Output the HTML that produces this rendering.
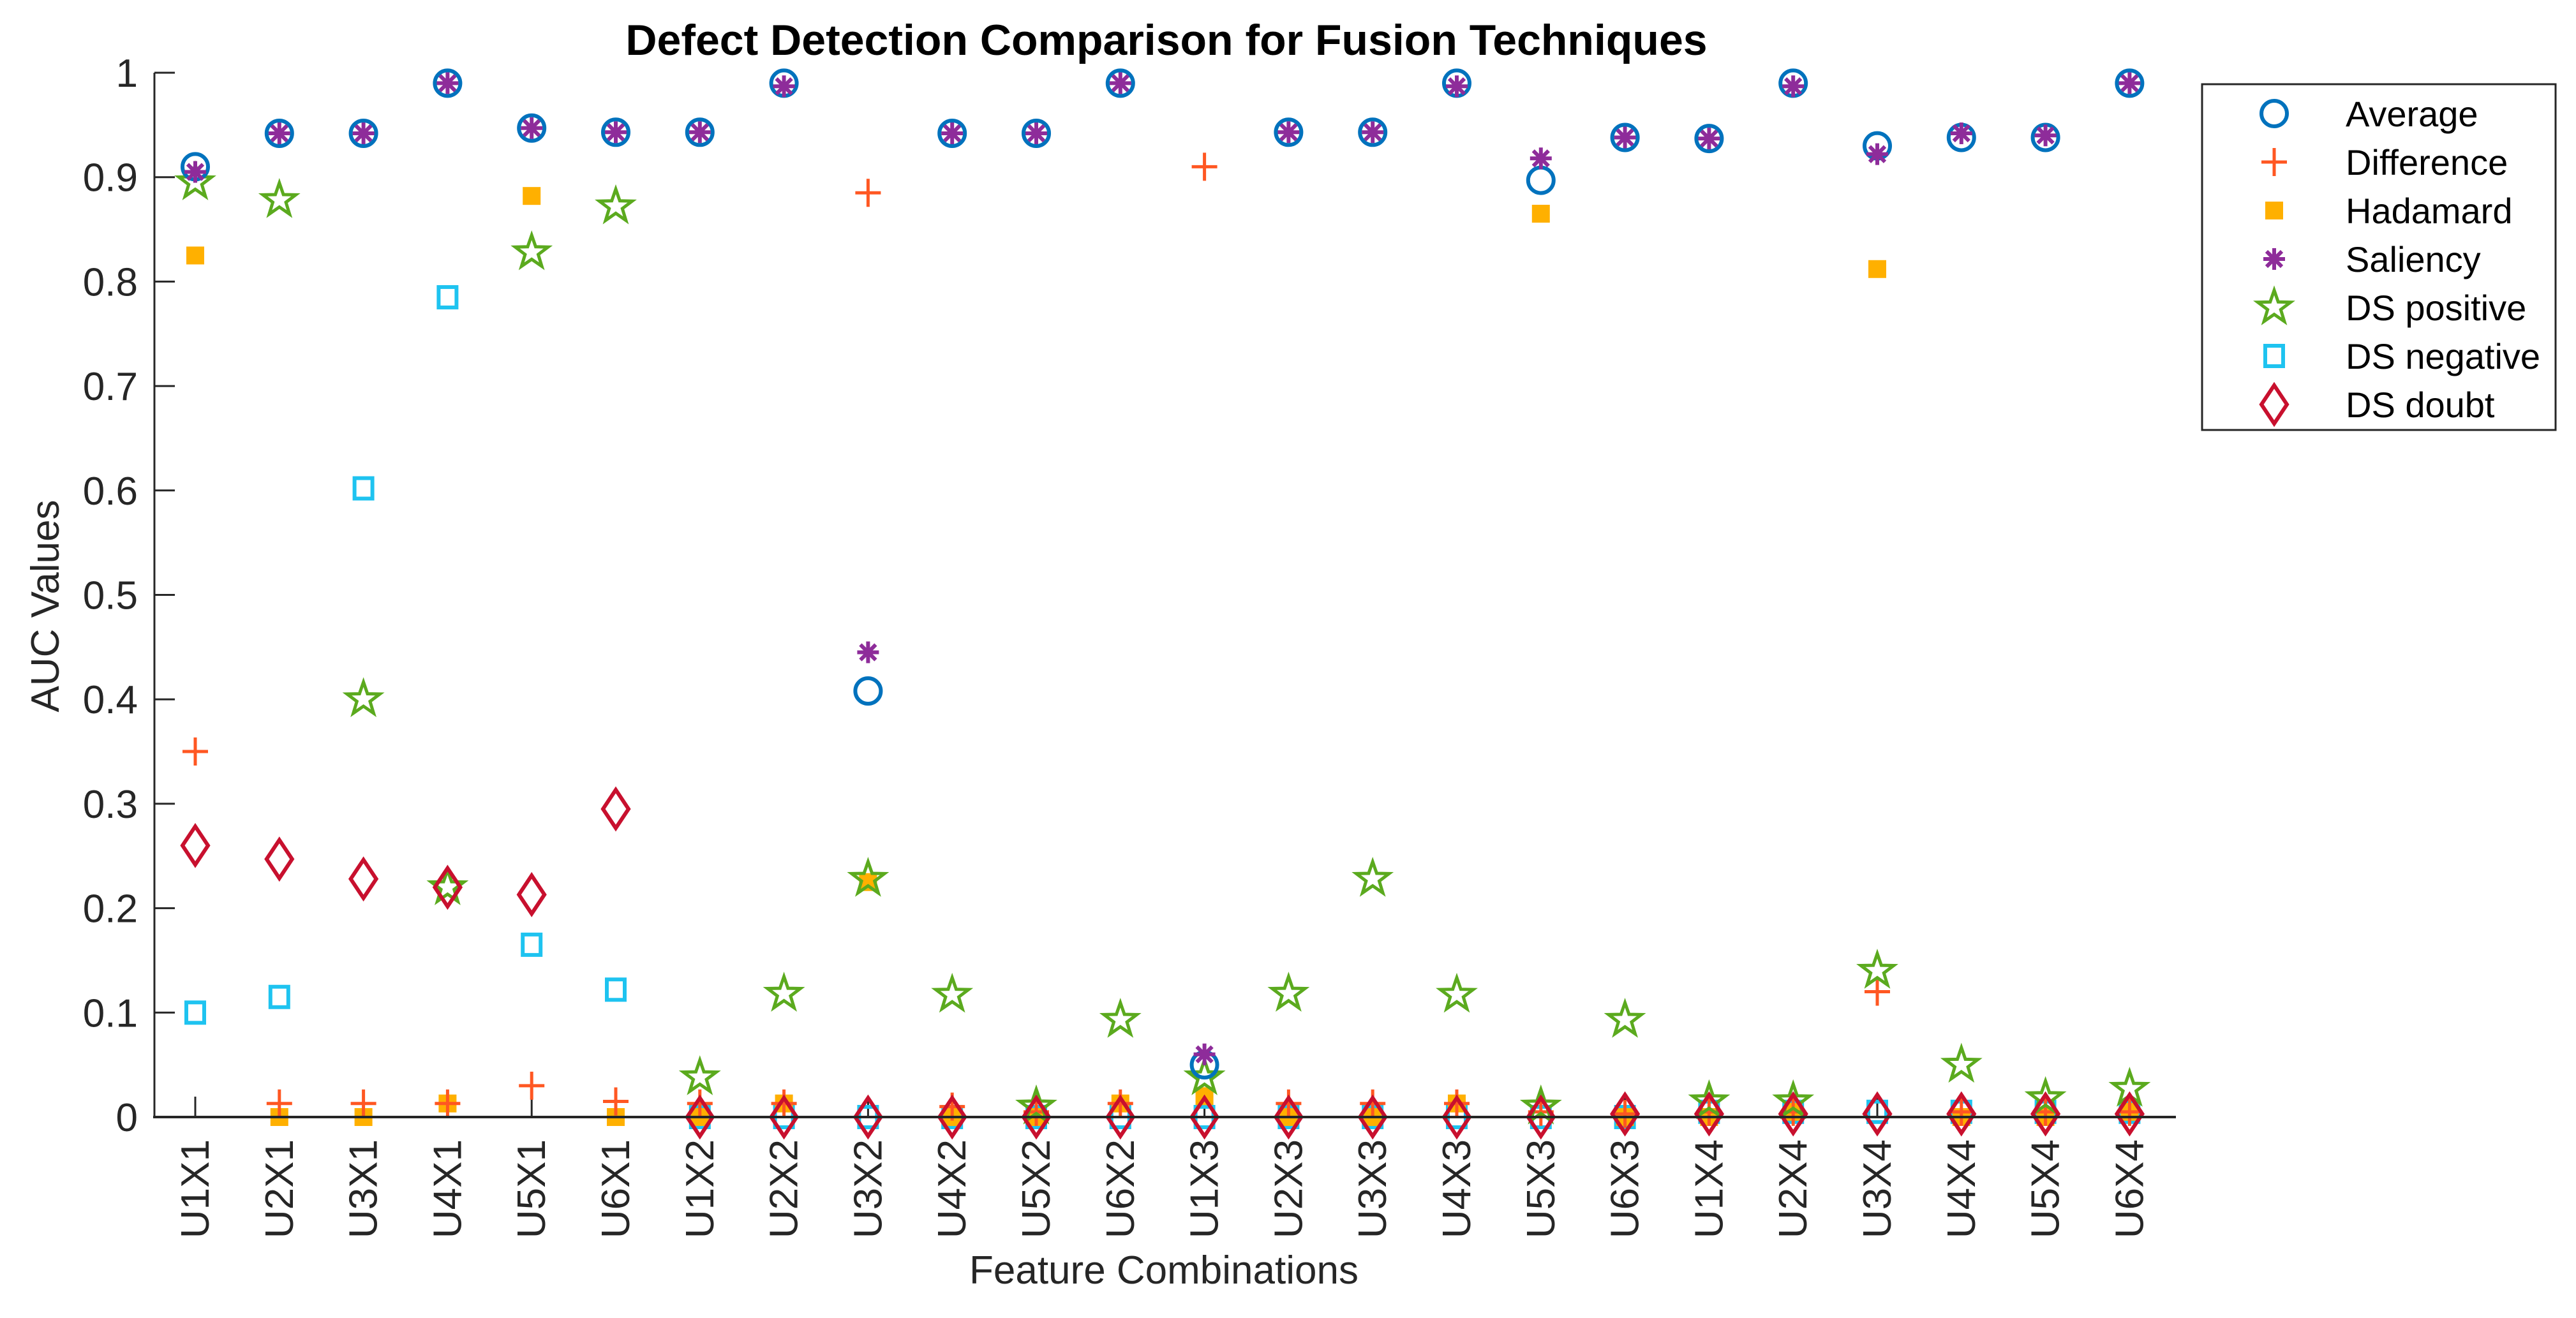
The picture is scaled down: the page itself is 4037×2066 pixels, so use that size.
<!DOCTYPE html>
<html><head><meta charset="utf-8"><style>
html,body{margin:0;padding:0;background:#fff;}
svg{display:block;font-family:"Liberation Sans",Arial,sans-serif;}
</style></head><body>
<svg id="chart" width="4037" height="2066" viewBox="0 0 4037 2066" xmlns="http://www.w3.org/2000/svg">
<rect width="4037" height="2066" fill="#fff"/>
<text x="1828" y="86" text-anchor="middle" font-size="68" font-weight="bold">Defect Detection Comparison for Fusion Techniques</text>
<text transform="translate(92,950) rotate(-90)" text-anchor="middle" font-size="62" fill="#262626">AUC Values</text>
<text x="1824" y="2012" text-anchor="middle" font-size="62" fill="#262626">Feature Combinations</text>
<g id="ticks"></g>
<g id="marks"></g>
<line x1="242" y1="114" x2="242" y2="1751" stroke="#262626" stroke-width="3"/>
<line x1="240" y1="1751" x2="3410" y2="1751" stroke="#262626" stroke-width="4"/>
<g id="legend">
<rect x="3451" y="132" width="554" height="542" fill="#fff" stroke="#262626" stroke-width="3"/>
</g>
</svg>
<script>
const categories=["U1X1","U2X1","U3X1","U4X1","U5X1","U6X1","U1X2","U2X2","U3X2","U4X2","U5X2","U6X2","U1X3","U2X3","U3X3","U4X3","U5X3","U6X3","U1X4","U2X4","U3X4","U4X4","U5X4","U6X4"];
const yTicks=[0,0.1,0.2,0.3,0.4,0.5,0.6,0.7,0.8,0.9,1];
const yTickLabels=["0","0.1","0.2","0.3","0.4","0.5","0.6","0.7","0.8","0.9","1"];
const average=[0.91,0.942,0.942,0.99,0.947,0.943,0.943,0.99,0.408,0.942,0.942,0.99,0.05,0.943,0.943,0.99,0.897,0.938,0.937,0.99,0.93,0.938,0.938,0.99];
const difference=[0.35,0.013,0.013,0.013,0.03,0.015,0.013,0.013,0.885,0.01,0.005,0.013,0.91,0.013,0.013,0.013,0.005,0.003,0.005,0.005,0.12,0.005,0.005,0.005];
const hadamard=[0.825,0,0,0.013,0.882,0,0,0.013,0.225,0,0,0.013,0.02,0,0,0.013,0.865,0,0,0.005,0.812,0,0,0.005];
const saliency=[0.905,0.942,0.942,0.99,0.947,0.943,0.943,0.987,0.445,0.942,0.942,0.99,0.06,0.943,0.943,0.987,0.918,0.938,0.937,0.987,0.922,0.942,0.94,0.99];
const dsPositive=[0.895,0.878,0.40,0.22,0.828,0.872,0.038,0.118,0.228,0.117,0.01,0.093,0.038,0.118,0.228,0.117,0.01,0.093,0.015,0.015,0.14,0.05,0.018,0.027];
const dsNegative=[0.10,0.115,0.602,0.785,0.165,0.122,0,0,0,0,0,0,0,0,0,0,0,0,0.005,0.005,0.005,0.005,0.005,0.005];
const dsDoubt=[0.26,0.247,0.228,0.22,0.213,0.295,0,0,0,0,0,0,0,0,0,0,0,0.003,0.003,0.003,0.003,0.003,0.003,0.003];

const NS="http://www.w3.org/2000/svg";
const x0=306, dx=131.8, yZero=1751, yOne=114;
function xs(i){return x0+i*dx;}
function ys(v){return yZero-(yZero-yOne)*v;}
function mk(tag,attrs,parent){const e=document.createElementNS(NS,tag);for(const k in attrs)e.setAttribute(k,attrs[k]);parent.appendChild(e);return e;}
const ticks=document.getElementById('ticks'), marks=document.getElementById('marks');

yTicks.forEach((v,i)=>{
  const l=mk('line',{x1:242,x2:274,y1:ys(v),y2:ys(v),stroke:'#262626','stroke-width':3},ticks);
  
  
  const t=mk('text',{x:216,y:ys(v)+22,'text-anchor':'end','font-size':62,fill:'#262626'},ticks);
  t.textContent=yTickLabels[i];
  
  
});
categories.forEach((c,i)=>{
  const l=mk('line',{x1:xs(i),x2:xs(i),y1:yZero,y2:yZero-32,stroke:'#262626','stroke-width':3},ticks);
  
  
  const t=mk('text',{transform:`translate(${xs(i)+21},1786) rotate(-90)`,'text-anchor':'end','font-size':62,fill:'#262626'},ticks);
  t.textContent=c;
  
  
});

function starPts(cx,cy,R){const r=R*0.4;let p=[];for(let k=0;k<10;k++){const a=-Math.PI/2+k*Math.PI/5;const rr=k%2?r:R;p.push((cx+rr*Math.cos(a)).toFixed(1)+','+(cy+rr*Math.sin(a)).toFixed(1));}return p.join(' ');}
function drawMarker(type,cx,cy,parent){
  const g=mk('g',{},parent);
  if(type==='circle'){mk('circle',{cx,cy,r:20,fill:'none',stroke:'#0072BD','stroke-width':6},g);}
  else if(type==='plus'){mk('path',{d:`M${cx-20},${cy}H${cx+20}M${cx},${cy-22}V${cy+22}`,stroke:'#FF5722','stroke-width':5,fill:'none'},g);}
  else if(type==='fsquare'){mk('rect',{x:cx-14,y:cy-14,width:28,height:28,fill:'#FFB000'},g);}
  else if(type==='asterisk'){let d='';for(let k=0;k<4;k++){const a=k*Math.PI/4;d+=`M${cx-17*Math.cos(a)},${cy-17*Math.sin(a)}L${cx+17*Math.cos(a)},${cy+17*Math.sin(a)}`;}mk('path',{d,stroke:'#8E2C9A','stroke-width':6,fill:'none'},g);}
  else if(type==='star'){mk('polygon',{points:starPts(cx,cy,27),fill:'none',stroke:'#5BAA1E','stroke-width':5,'stroke-linejoin':'miter'},g);}
  else if(type==='osquare'){mk('rect',{x:cx-14,y:cy-16,width:28,height:32,fill:'none',stroke:'#1EC3F0','stroke-width':6},g);}
  else if(type==='diamond'){mk('polygon',{points:`${cx},${cy-30} ${cx+20},${cy} ${cx},${cy+30} ${cx-20},${cy}`,fill:'none',stroke:'#C8102E','stroke-width':6},g);}
  return g;
}
const series=[["average",average,"circle"],["difference",difference,"plus"],["hadamard",hadamard,"fsquare"],["saliency",saliency,"asterisk"],["ds-positive",dsPositive,"star"],["ds-negative",dsNegative,"osquare"],["ds-doubt",dsDoubt,"diamond"]];
const order=[5,2,1,4,6,0,3];
order.forEach(si=>{
  const [name,vals,type]=series[si];
  vals.forEach((v,i)=>{
    const g=drawMarker(type,xs(i),ys(v),marks);
    
    
  });
});
const legendNames=["Average","Difference","Hadamard","Saliency","DS positive","DS negative","DS doubt"];
const leg=document.getElementById('legend');
series.forEach((s,k)=>{
  const cy=178+k*76;
  const g=drawMarker(s[2],3564,cy,leg);
  
  
  const t=mk('text',{x:3676,y:cy+20,'font-size':56,fill:'#000'},leg);
  t.textContent=legendNames[k];
  
  
});
</script>
</body></html>
